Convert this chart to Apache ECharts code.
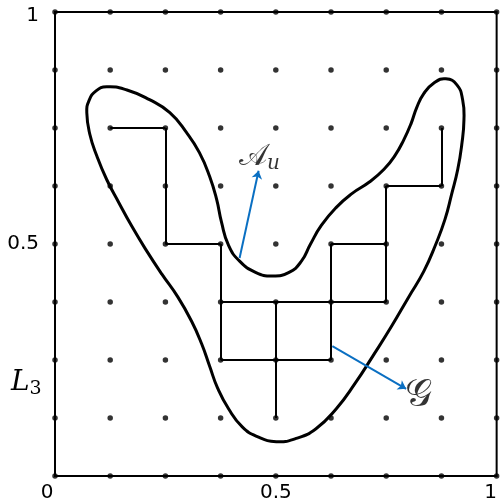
<!DOCTYPE html>
<html><head><meta charset="utf-8">
<script src="https://cdn.jsdelivr.net/npm/echarts@6/dist/echarts.min.js"></script>
<style>html,body{margin:0;padding:0;background:#fff}#c{width:500px;height:503px}</style>
</head><body><div id="c"></div>
<script>
// lattice positions (multiples of 1/8)
const latticeTicks = [0, 0.125, 0.25, 0.375, 0.5, 0.625, 0.75, 0.875, 1];
// axis tick labels
const xTickLabels = {0: '0', 0.5: '0.5', 1: '1'};
const yTickLabels = {0.5: '0.5', 1: '1'};
// graph G edges, as lattice indices (i, j)
const graphEdges = [
  [[1,6],[2,6]], [[2,6],[2,4]], [[2,4],[3,4]], [[3,4],[3,2]],
  [[3,3],[6,3]], [[3,2],[5,2]], [[4,3],[4,1]], [[5,4],[5,2]],
  [[5,4],[6,4]], [[6,5],[6,3]], [[6,5],[7,5]], [[7,6],[7,5]]
];
// closed curve (boundary of A_u), data coords (closed loop, first point not repeated)
const blobX = [0.174,0.144,0.117,0.095,0.079,0.072,0.077,0.093,0.117,0.163,0.214,0.260,0.298,0.327,0.350,0.366,0.377,0.393,0.418,0.454,0.492,0.530,0.558,0.578,0.603,0.637,0.673,0.711,0.745,0.770,0.790,0.806,0.819,0.835,0.858,0.885,0.910,0.923,0.926,0.921,0.912,0.898,0.883,0.862,0.835,0.801,0.761,0.720,0.679,0.637,0.591,0.546,0.501,0.458,0.424,0.393,0.368,0.350,0.332,0.309,0.278,0.242,0.205];
const blobY = [0.538,0.590,0.639,0.689,0.736,0.783,0.809,0.830,0.839,0.832,0.811,0.783,0.740,0.697,0.646,0.596,0.547,0.497,0.463,0.439,0.431,0.439,0.463,0.499,0.540,0.579,0.609,0.633,0.661,0.691,0.725,0.759,0.794,0.824,0.847,0.856,0.843,0.811,0.768,0.714,0.661,0.607,0.553,0.499,0.441,0.386,0.321,0.259,0.199,0.145,0.102,0.081,0.074,0.085,0.106,0.145,0.190,0.237,0.285,0.334,0.386,0.435,0.489];
// annotation arrows [from, to]
const arrowA = [[0.418,0.470],[0.461,0.658]];
const arrowG = [[0.628,0.280],[0.795,0.188]];
const labelA = [0.463, 0.686];
const labelG = [0.822, 0.173];

const dots = [];
latticeTicks.forEach(x => latticeTicks.forEach(y => dots.push([x, y])));
const edgeData = graphEdges.map(e => ({coords: e.map(p => [latticeTicks[p[0]], latticeTicks[p[1]]])}));
const blobData = blobX.map((x, k) => [x, blobY[k]]);

const xRich = {l0: {padding: [0, 16, 0, 0]}, l1: {padding: [0, 12, 0, 0]}};
const yRich = {t1: {padding: [8, 0, 0, 0]}};

const chart = echarts.init(document.getElementById('c'));
chart.setOption({
  animation: false,
  grid: {left: 55, right: 2, top: 12, bottom: 25.5, show: true, borderColor: '#000', borderWidth: 2, backgroundColor: 'transparent'},
  xAxis: {type: 'value', min: 0, max: 1, interval: 0.5, splitLine: {show: false}, axisLine: {show: false}, axisTick: {show: false},
    axisLabel: {color: '#000', fontFamily: 'DejaVu Sans', fontSize: 20, margin: 7, rich: xRich,
      formatter: v => v === 0 ? '{l0|' + xTickLabels[v] + '}' : (v === 1 ? '{l1|' + xTickLabels[v] + '}' : (xTickLabels[v] || ''))}},
  yAxis: {type: 'value', min: 0, max: 1, interval: 0.5, splitLine: {show: false}, axisLine: {show: false}, axisTick: {show: false},
    axisLabel: {color: '#000', fontFamily: 'DejaVu Sans', fontSize: 20, margin: 16, rich: yRich,
      formatter: v => v === 1 ? '{t1|' + yTickLabels[v] + '}' : (yTickLabels[v] || '')}},
  graphic: [{type: 'text', left: 11, top: 369, style: {text: '{a|L}{b|3}', rich: {a: {fontFamily: 'DejaVu Serif', fontStyle: 'italic', fontSize: 28, fill: '#000'}, b: {fontFamily: 'DejaVu Serif', fontSize: 19, fill: '#000', padding: [12,0,0,0]}}}}],
  series: [
    {type: 'scatter', data: dots, symbolSize: 5.5, itemStyle: {color: '#000'}, z: 3},
    {type: 'lines', coordinateSystem: 'cartesian2d', data: edgeData, lineStyle: {color: '#000', width: 2, opacity: 1}, z: 4},
    {type: 'custom', data: [[0.5, 0.5]], z: 5, clip: false,
      renderItem: (params, api) => ({type: 'polygon', shape: {points: blobData.map(p => api.coord(p)), smooth: 0.5},
        style: {fill: 'none', stroke: '#000', lineWidth: 3}})},
    {type: 'lines', coordinateSystem: 'cartesian2d', data: [{coords: arrowA}, {coords: arrowG}], symbol: ['none', 'arrow'], symbolSize: 8,
      lineStyle: {color: '#0a6fc2', width: 2, opacity: 1}, z: 6},
    {type: 'scatter', data: [labelA], symbolSize: 0, z: 7, label: {show: true, position: 'inside', formatter: '{a|𝒜}{b|u}',
      rich: {a: {fontFamily: 'DejaVu Serif', fontSize: 30, color: '#000'}, b: {fontFamily: 'DejaVu Serif', fontStyle: 'italic', fontSize: 20, color: '#000', padding: [12,0,0,0]}}}},
    {type: 'scatter', data: [labelG], symbolSize: 0, z: 7, label: {show: true, position: 'inside', formatter: '𝒢', fontFamily: 'DejaVu Serif', fontSize: 38, color: '#000'}}
  ]
});
</script></body></html>
